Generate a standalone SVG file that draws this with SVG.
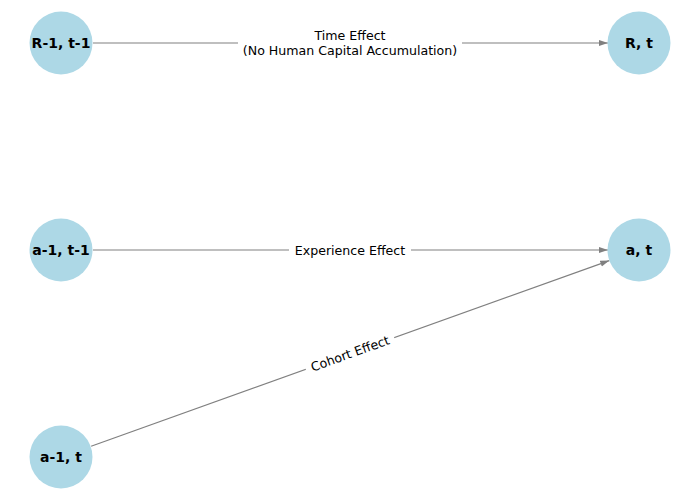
<svg xmlns="http://www.w3.org/2000/svg" width="700" height="500" viewBox="0 0 700 500">
<style>
.node circle{fill:#ADD8E6;}
.node text{font-family:"DejaVu Sans",sans-serif;font-size:14px;font-weight:bold;fill:#000;text-anchor:middle;dominant-baseline:central;}
.edge line{stroke:#808080;stroke-width:1.2;marker-end:url(#arr);}
.lbl rect{fill:#fff;}
.lbl text{font-family:"DejaVu Sans",sans-serif;font-size:12.6px;fill:#000;text-anchor:middle;dominant-baseline:central;}
</style>
<defs>
<marker id="arr" markerUnits="userSpaceOnUse" markerWidth="10" markerHeight="8" viewBox="0 0 10 8" refX="9" refY="4" orient="auto">
<path d="M0,1 L9,4 L0,7 z" fill="#808080"/>
</marker>
</defs>
<rect width="700" height="500" fill="#fff"/>
<g id="connectors">
<g class="edge"><line x1="93" y1="43" x2="608" y2="43"/></g>
<g class="edge"><line x1="93" y1="250" x2="608" y2="250"/></g>
<g class="edge"><line x1="91.1" y1="446.2" x2="609.3" y2="260.6"/></g>
<g class="lbl">
<rect x="238" y="26" width="224" height="34"/>
<text x="350" y="35">Time Effect</text>
<text x="350" y="50">(No Human Capital Accumulation)</text>
</g>
<g class="lbl">
<rect x="289" y="241" width="122" height="18"/>
<text x="350" y="250">Experience Effect</text>
</g>
<g class="lbl" transform="translate(350,353.5) rotate(-19.7)">
<rect x="-47" y="-9" width="94" height="18"/>
<text x="0" y="0">Cohort Effect</text>
</g>
</g>
<g id="n-R1t1" class="node"><circle cx="61" cy="43" r="31.5"/><text x="61" y="43">R-1, t-1</text></g>
<g id="n-Rt" class="node"><circle cx="639" cy="43" r="31.5"/><text x="639" y="43">R, t</text></g>
<g id="n-a1t1" class="node"><circle cx="61" cy="250" r="31.5"/><text x="61" y="250">a-1, t-1</text></g>
<g id="n-at" class="node"><circle cx="639" cy="250" r="31.5"/><text x="639" y="250">a, t</text></g>
<g id="n-a1t" class="node"><circle cx="61" cy="457" r="31.5"/><text x="61" y="457">a-1, t</text></g>
</svg>
